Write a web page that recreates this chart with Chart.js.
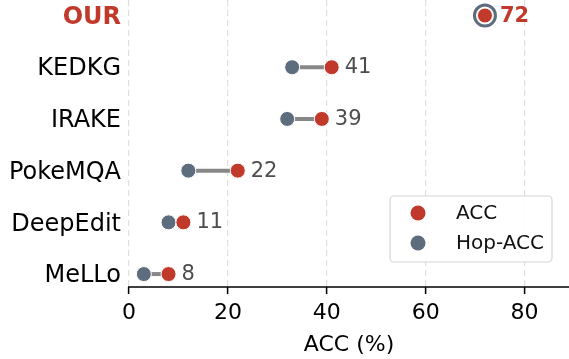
<!DOCTYPE html>
<html>
<head>
<meta charset="utf-8">
<script src="https://cdn.jsdelivr.net/npm/chart.js@4.4.1/dist/chart.umd.min.js"></script>
<style>
html,body{margin:0;padding:0;background:#fff;}
#wrap{width:569px;height:359px;position:relative;}
</style>
</head>
<body>
<div id="wrap"><canvas id="c" width="569" height="359"></canvas></div>
<script>
const categories = ['OUR', 'KEDKG', 'IRAKE', 'PokeMQA', 'DeepEdit', 'MeLLo'];
const accValues = [72, 41, 39, 22, 11, 8];
const hopValues = [72, 33, 32, 12, 8, 3];
const xTickValues = [0, 20, 40, 60, 80];
const seriesNames = ['ACC', 'Hop-ACC'];

const RED = '#c0392b';
const GREY = '#5d6d7e';
const LINE = '#878787';
const FONT = 'DejaVu Sans';

const pointsAcc = categories.map((c, i) => ({x: accValues[i], y: i}));
const pointsHop = categories.map((c, i) => ({x: hopValues[i], y: i}));

const connectors = categories.map((c, i) => ({
  type: 'scatter',
  label: '',
  data: [{x: hopValues[i], y: i}, {x: accValues[i], y: i}],
  showLine: true,
  borderColor: LINE,
  borderWidth: 4,
  pointRadius: 0,
  pointHoverRadius: 0
}));

const datasets = [
  {
    type: 'scatter',
    label: seriesNames[0],
    data: pointsAcc,
    backgroundColor: RED,
    borderColor: '#ffffff',
    borderWidth: 1,
    pointRadius: 7.5,
    pointHoverRadius: 7.5
  },
  {
    type: 'scatter',
    label: seriesNames[1],
    data: pointsHop,
    backgroundColor: categories.map((c, i) => i === 0 ? '#ffffff' : GREY),
    borderColor: categories.map((c, i) => i === 0 ? GREY : '#ffffff'),
    borderWidth: categories.map((c, i) => i === 0 ? 3 : 1),
    pointRadius: categories.map((c, i) => i === 0 ? 10.5 : 7.5),
    pointHoverRadius: categories.map((c, i) => i === 0 ? 10.5 : 7.5)
  },
  ...connectors
];

const valueLabels = {
  id: 'valueLabels',
  afterDatasetsDraw(chart) {
    const ctx = chart.ctx;
    const xs = chart.scales.x, ys = chart.scales.y;
    ctx.save();
    ctx.textBaseline = 'middle';
    ctx.textAlign = 'left';
    categories.forEach((c, i) => {
      const px = xs.getPixelForValue(accValues[i]);
      const py = ys.getPixelForValue(i);
      if (i === 0) {
        ctx.font = 'bold 21px "' + FONT + '"';
        ctx.fillStyle = RED;
        ctx.fillText(String(accValues[i]), px + 15, py + 1);
      } else {
        ctx.font = '21px "' + FONT + '"';
        ctx.fillStyle = '#4d4d4d';
        ctx.fillText(String(accValues[i]), px + 13, py + 0.5);
      }
    });
    ctx.restore();
  }
};

const axisLine = {
  id: 'axisLine',
  afterDraw(chart) {
    const ctx = chart.ctx;
    const a = chart.chartArea;
    ctx.save();
    ctx.setLineDash([]);
    ctx.strokeStyle = '#000';
    ctx.lineWidth = 1.5;
    ctx.beginPath();
    ctx.moveTo(a.left - 1, a.bottom);
    ctx.lineTo(a.right, a.bottom);
    ctx.stroke();
    ctx.restore();
  }
};

const boxLegend = {
  id: 'boxLegend',
  afterDraw(chart) {
    const ctx = chart.ctx;
    const a = chart.chartArea;
    const w = 162, h = 66;
    const x = a.right - 17 - w, y = a.bottom - 25 - h;
    ctx.save();
    ctx.beginPath();
    ctx.roundRect(x, y, w, h, 4);
    ctx.fillStyle = 'rgba(255,255,255,0.85)';
    ctx.fill();
    ctx.strokeStyle = '#d6d6d6';
    ctx.lineWidth = 1.2;
    ctx.stroke();
    const items = [
      {label: chart.data.datasets[0].label, color: RED},
      {label: chart.data.datasets[1].label, color: GREY}
    ];
    ctx.font = '20px "' + FONT + '"';
    ctx.textBaseline = 'middle';
    ctx.textAlign = 'left';
    items.forEach((it, k) => {
      const cy = y + 17 + k * 30;
      ctx.beginPath();
      ctx.arc(x + 28, cy, 7.5, 0, Math.PI * 2);
      ctx.fillStyle = it.color;
      ctx.fill();
      ctx.fillStyle = '#111';
      ctx.fillText(it.label, x + 66, cy + 1);
    });
    ctx.restore();
  }
};

new Chart(document.getElementById('c'), {
  type: 'scatter',
  data: {datasets},
  plugins: [valueLabels, axisLine, boxLegend],
  options: {
    responsive: false,
    animation: false,
    events: [],
    layout: {autoPadding: false, padding: {left: 0, right: 0, top: 0, bottom: 0}},
    plugins: {
      legend: {display: false},
      tooltip: {enabled: false}
    },
    scales: {
      x: {
        type: 'linear',
        min: 0,
        max: 89,
        afterBuildTicks(scale) {
          scale.ticks = xTickValues.map(v => ({value: v}));
        },
        afterFit(scale) {
          scale.height = 72;
          scale.paddingLeft = 0;
          scale.paddingRight = 0;
        },
        ticks: {
          color: '#000',
          font: {family: FONT, size: 22},
          padding: 6,
          maxRotation: 0
        },
        grid: {
          display: true,
          color: '#e0e0e0',
          lineWidth: 1.2,
          drawTicks: true,
          tickLength: 7,
          tickColor: '#000',
          tickWidth: 1.5,
          tickBorderDash: [1, 0]
        },
        border: {display: false, dash: [6, 4]},
        title: {
          display: true,
          text: 'ACC (%)',
          color: '#000',
          font: {family: FONT, size: 22},
          padding: {top: 2, bottom: 1}
        }
      },
      y: {
        type: 'linear',
        reverse: true,
        min: -0.3,
        max: 5.25,
        afterBuildTicks(scale) {
          scale.ticks = categories.map((c, i) => ({value: i}));
        },
        afterFit(scale) {
          scale.width = 129;
          scale.paddingTop = 0;
          scale.paddingBottom = 0;
        },
        ticks: {
          callback: (v) => categories[v],
          color: (ctx) => ctx.index === 0 ? RED : '#000',
          font: (ctx) => ({family: FONT, size: 24, weight: ctx.index === 0 ? 'bold' : 'normal'}),
          padding: 8,
          labelOffset: 2
        },
        grid: {display: false, drawTicks: false},
        border: {display: false}
      }
    }
  }
});
</script>
</body>
</html>
